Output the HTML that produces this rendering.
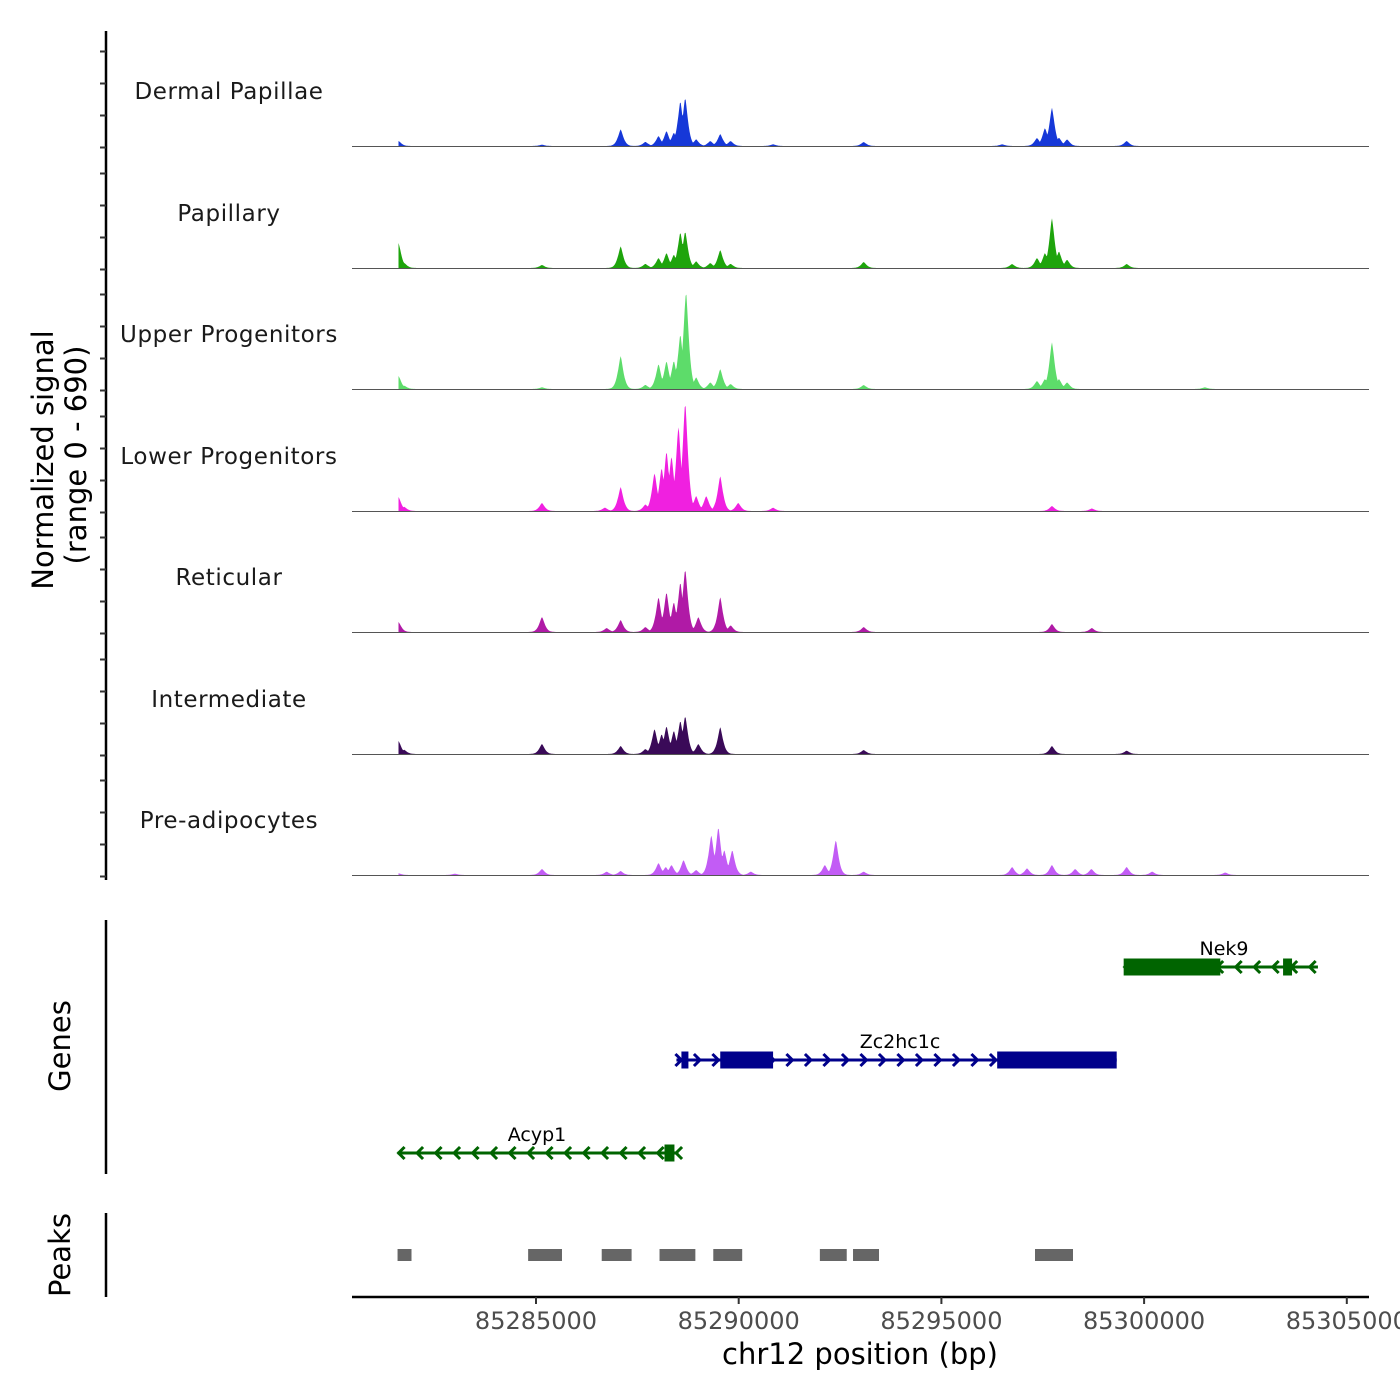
<!DOCTYPE html>
<html><head><meta charset="utf-8"><style>
html,body{margin:0;padding:0;background:#fff;}
svg{display:block;font-family:"DejaVu Sans","Liberation Sans",sans-serif;}
</style></head><body>
<svg id="chart" width="1400" height="1400" viewBox="0 0 1400 1400" xmlns="http://www.w3.org/2000/svg">
<g id="tracks"></g>
<g id="yaxis"></g>
<text transform="translate(53,460) rotate(-90)" text-anchor="middle" font-size="29" fill="#000">Normalized signal</text>
<text transform="translate(86,455) rotate(-90)" text-anchor="middle" font-size="29" fill="#000">(range 0 - 690)</text>
<g id="genes"></g>
<line x1="106" y1="920" x2="106" y2="1174" stroke="#000" stroke-width="2.5"/>
<text transform="translate(70,1046) rotate(-90)" text-anchor="middle" font-size="29" fill="#000">Genes</text>
<g id="peaks"></g>
<line x1="106" y1="1213" x2="106" y2="1297" stroke="#000" stroke-width="2.5"/>
<text transform="translate(70,1255) rotate(-90)" text-anchor="middle" font-size="29" fill="#000">Peaks</text>
<g id="xaxis"></g>
<text x="860" y="1364" text-anchor="middle" font-size="29" fill="#000">chr12 position (bp)</text>
</svg>
<script>
// ---- data ----
const trackNames = ["Dermal Papillae","Papillary","Upper Progenitors","Lower Progenitors","Reticular","Intermediate","Pre-adipocytes"];
const trackColors = ["#1638d8","#1ea40c","#5ddc6a","#f020e0","#b01aa6","#3a0a58","#c25cf5"];
// peak centers (bp) and heights (normalized signal, 0-690) per track
const dpPos = [85281609,85287088,85287700,85288022,85288219,85288400,85288560,85288680,85288950,85289300,85289545,85289800,85293084,85297358,85297555,85297727,85297900,85298100,85299570,85285147,85290848,85296500];
const dpVal = [30,100,25,60,90,80,270,290,40,30,72,30,24,48,108,230,50,40,30,8,10,10];
const paPos = [85281609,85281750,85287088,85287700,85288022,85288219,85288400,85288560,85288680,85288950,85289300,85289545,85289800,85293084,85297358,85297555,85297727,85297900,85298100,85299570,85285147,85296744];
const paVal = [150,30,130,25,60,90,80,215,220,40,30,108,25,36,60,90,300,100,50,24,18,24];
const upPos = [85281609,85281750,85287088,85287700,85288022,85288219,85288400,85288560,85288700,85288950,85289300,85289545,85289800,85293084,85297358,85297555,85297727,85297900,85298100,85285147,85301500];
const upVal = [78,20,198,25,150,168,170,330,588,70,40,120,30,24,48,60,282,60,40,10,10];
const loPos = [85281609,85281750,85285147,85286700,85287088,85287700,85287924,85288100,85288219,85288342,85288514,85288680,85288950,85289200,85289545,85289988,85297727,85290848,85298710];
const loVal = [84,25,48,20,144,40,228,260,360,330,510,654,90,90,210,48,30,20,15];
const rePos = [85281609,85285147,85286744,85287088,85287700,85288022,85288219,85288400,85288560,85288680,85289005,85289545,85289800,85293084,85297727,85298710];
const reVal = [60,90,24,72,30,210,240,180,300,378,90,210,40,30,48,24];
const inPos = [85281609,85281750,85285147,85287088,85287700,85287924,85288100,85288219,85288400,85288560,85288680,85289005,85289545,85293084,85297727,85299570];
const inVal = [78,25,60,48,30,150,120,168,140,200,228,60,162,24,48,20];
const prPos = [85281609,85283000,85285147,85286744,85287088,85288022,85288200,85288342,85288640,85288950,85289324,85289498,85289644,85289840,85290300,85292125,85292395,85293084,85296744,85297112,85297727,85298300,85298700,85299570,85300200,85302000];
const prVal = [10,8,36,20,24,72,48,60,90,30,240,288,150,150,20,60,210,20,48,40,60,36,36,48,20,15];
const trackPos = [dpPos,paPos,upPos,loPos,rePos,inPos,prPos];
const trackVal = [dpVal,paVal,upVal,loVal,reVal,inVal,prVal];
const xTicks = [85285000,85290000,85295000,85300000,85305000];
const geneNames = ["Nek9","Zc2hc1c","Acyp1"];
const geneStrand = ["-","+","-"];
const geneStart = [85299496,85288464,85281585];
const geneEnd = [85304288,85299324,85288514];
const geneExons = [[[85299496,85301880],[85303428,85303649]],[[85288587,85288759],[85289545,85290848],[85296376,85299324]],[[85288170,85288415]]];
const peakStart = [85281585,85284806,85286621,85288047,85289373,85292002,85292820,85297309];
const peakEnd = [85281929,85285641,85287358,85288931,85290086,85292665,85293461,85298246];

// ---- scales ----
const NS="http://www.w3.org/2000/svg";
const X0=536, BP0=85285000, PXBP=202.7/5000;
function xs(bp){return X0+(bp-BP0)*PXBP;}
const plotL=352, plotR=1369;
const baseY=[146,268,389,511,632,754,875];
const trackH=115, vmax=690;
function ys(t,v){return baseY[t]-v/vmax*trackH;}
function mk(tag,attrs,parent){const e=document.createElementNS(NS,tag);for(const k in attrs)e.setAttribute(k,attrs[k]);parent.appendChild(e);return e;}

// ---- tracks ----
const gT=document.getElementById('tracks');
const dataStart=85281609, dataEnd=85304300, step=20;
for(let t=0;t<trackNames.length;t++){
  const P=trackPos[t], V=trackVal[t];
  let d="M"+xs(dataStart).toFixed(1)+","+baseY[t];
  for(let bp=dataStart;bp<=dataEnd;bp+=step){
    let v=0;
    for(let i=0;i<P.length;i++){
      const dd=Math.abs(bp-P[i]);
      if(i===0 && bp<P[0]) continue;
      v=Math.max(v,V[i]*Math.exp(-Math.pow(dd/95,1.4)));
    }
    d+="L"+xs(bp).toFixed(1)+","+ys(t,v).toFixed(1);
  }
  d+="L"+xs(dataEnd).toFixed(1)+","+baseY[t]+"Z";
  const p=mk('path',{d:d,fill:trackColors[t]},gT);
  
  
  const bl=mk('line',{x1:plotL,x2:plotR,y1:baseY[t]+0.5,y2:baseY[t]+0.5,stroke:'#555','stroke-width':1},gT);
  
  
  const lb=mk('text',{x:229,y:baseY[t]-47,'text-anchor':'middle','font-size':23,fill:'#1a1a1a','letter-spacing':'0.6'},gT);
  lb.textContent=trackNames[t];
  
  
}

// ---- y axis ----
const gY=document.getElementById('yaxis');
const ya=mk('line',{x1:106,x2:106,y1:31,y2:880,stroke:'#000','stroke-width':2.5},gY);


for(let t=0;t<baseY.length;t++){
  for(let k=0;k<4;k++){
    const y=baseY[t]+1.5-k*32;
    const tk=mk('line',{x1:100,x2:106,y1:y,y2:y,stroke:'#333','stroke-width':2},gY);
    
    
  }
}

// ---- genes ----
const gG=document.getElementById('genes');
const geneY=[967,1060,1153], geneCol=["#006400","#00008b","#006400"], labelX=[1224,900,537];
for(let g=0;g<geneNames.length;g++){
  const y=geneY[g], c=geneCol[g];
  const x1=xs(geneStart[g]), x2=xs(geneEnd[g]);
  const ln=mk('line',{x1:x1,x2:x2,y1:y,y2:y,stroke:c,'stroke-width':3},gG);
  
  
  for(let x=x1+3;x<=x2;x+=18.5){
    const dir=geneStrand[g]=="+"?1:-1;
    const ch=mk('path',{d:`M${x-4*dir},${y-6}L${x+2*dir},${y}L${x-4*dir},${y+6}`,fill:'none',stroke:c,'stroke-width':3},gG);
    
    
  }
  for(const ex of geneExons[g]){
    const r=mk('rect',{x:xs(ex[0]),y:y-8.5,width:Math.max(7,xs(ex[1])-xs(ex[0])),height:17,fill:c},gG);
    
    
  }
  const t=mk('text',{x:labelX[g],y:y-12,'text-anchor':'middle','font-size':19,fill:'#000'},gG);
  t.textContent=geneNames[g];
  
  
}

// ---- peaks ----
const gP=document.getElementById('peaks');
for(let i=0;i<peakStart.length;i++){
  const r=mk('rect',{x:xs(peakStart[i]),y:1249,width:xs(peakEnd[i])-xs(peakStart[i]),height:12,fill:'#666'},gP);
  
  
}

// ---- x axis ----
const gX=document.getElementById('xaxis');
const xa=mk('line',{x1:plotL,x2:plotR,y1:1297,y2:1297,stroke:'#000','stroke-width':2.5},gX);


for(const v of xTicks){
  const tk=mk('line',{x1:xs(v),x2:xs(v),y1:1297,y2:1304,stroke:'#333','stroke-width':2},gX);
  
  
  const tl=mk('text',{x:xs(v),y:1329,'text-anchor':'middle','font-size':24,fill:'#4d4d4d'},gX);
  tl.textContent=String(v);
  
  
}
</script>
</body></html>
